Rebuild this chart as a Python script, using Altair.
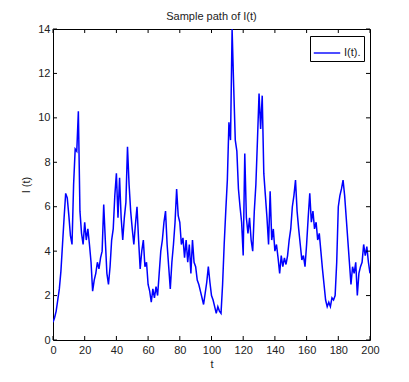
import altair as alt
import pandas as pd

# Sample path values (t = 0..200, step 1)
t_values = list(range(0, 201))
i_values = [
    0.8, 1.0, 1.3, 1.8, 2.3, 3.1, 4.3, 5.5, 6.6, 6.4,   # 0-9
    5.6, 4.7, 4.3, 7.0, 8.6, 8.5, 10.3, 5.8, 4.8, 4.3,  # 10-19
    5.3, 4.5, 5.0, 4.3, 3.5, 2.2, 2.7, 3.0, 3.5, 3.2,   # 20-29
    3.7, 4.0, 6.1, 4.5, 3.0, 2.5, 3.3, 4.5, 5.0, 6.5,   # 30-39
    7.5, 5.5, 7.3, 5.5, 4.5, 5.5, 6.2, 8.7, 7.0, 5.8,   # 40-49
    5.0, 4.3, 5.2, 6.0, 4.5, 3.2, 4.0, 4.5, 3.3, 3.5,   # 50-59
    2.5, 2.2, 1.7, 2.3, 1.9, 2.4, 2.0, 3.0, 4.0, 4.5,   # 60-69
    5.3, 5.8, 4.3, 3.3, 2.3, 3.5, 4.3, 5.3, 6.8, 5.6,   # 70-79
    5.3, 4.3, 4.6, 3.7, 4.5, 3.5, 4.3, 3.0, 4.5, 3.5,   # 80-89
    3.3, 2.7, 2.5, 2.2, 1.9, 1.6, 2.1, 2.6, 3.3, 2.6,   # 90-99
    2.0, 1.8, 1.5, 1.2, 1.5, 1.3, 1.2, 2.5, 4.3, 5.8,   # 100-109
    7.2, 9.8, 9.0, 14.0, 11.4, 9.0, 8.5, 6.8, 6.0, 5.3, # 110-119
    3.8, 8.4, 5.5, 4.8, 5.5, 4.5, 4.0, 5.8, 7.0, 9.0,   # 120-129
    11.1, 9.5, 11.0, 7.5, 6.5, 5.5, 4.3, 6.7, 4.5, 5.0, # 130-139
    4.0, 4.3, 3.7, 3.0, 3.8, 3.3, 3.7, 3.4, 3.8, 4.5,   # 140-149
    5.0, 6.0, 6.5, 7.2, 5.8, 5.0, 4.3, 3.6, 3.8, 3.3,   # 150-159
    4.3, 5.5, 6.6, 5.3, 5.8, 5.0, 5.3, 4.5, 4.8, 4.0,   # 160-169
    3.2, 2.5, 1.8, 1.5, 1.7, 1.5, 1.9, 1.8, 2.0, 3.5,   # 170-179
    6.0, 6.5, 6.8, 7.2, 6.5, 5.5, 4.5, 3.5, 2.5, 3.3,   # 180-189
    3.0, 3.5, 2.0, 3.0, 3.3, 3.5, 4.3, 3.8, 4.2, 3.5,   # 190-199
    3.0,                                               # 200
]
series_name = "I(t)."
x_ticks = [0, 20, 40, 60, 80, 100, 120, 140, 160, 180, 200]
y_ticks = [0, 2, 4, 6, 8, 10, 12, 14]

W, H = 317, 311
FONT = "Liberation Sans"

df = pd.DataFrame({"t": t_values, "I": i_values, "series": series_name})
xt = pd.DataFrame({"v": x_ticks})
yt = pd.DataFrame({"v": y_ticks})

xscale = alt.Scale(domain=[0, 200], nice=False, zero=False)
yscale = alt.Scale(domain=[0, 14], nice=False, zero=False)

xaxis = alt.Axis(values=x_ticks, ticks=False, domain=False, grid=False,
                 title="t", labelPadding=4, titlePadding=3,
                 labelOverlap=False, labelFlush=False,
                 labelFontSize=11, titleFontSize=11, titleFontWeight="normal",
                 labelFont=FONT, titleFont=FONT,
                 labelColor="#222", titleColor="#222")
yaxis = alt.Axis(values=y_ticks, ticks=False, domain=False, grid=False,
                 title="I (t)", labelPadding=3, titlePadding=6,
                 labelOverlap=False, labelFlush=False,
                 labelFontSize=11, titleFontSize=11, titleFontWeight="normal",
                 labelFont=FONT, titleFont=FONT,
                 labelColor="#222", titleColor="#222")

line = alt.Chart(df).mark_line(strokeWidth=1.5, clip=True).encode(
    x=alt.X("t:Q", scale=xscale, axis=xaxis),
    y=alt.Y("I:Q", scale=yscale, axis=yaxis),
    color=alt.Color("series:N", scale=alt.Scale(range=["#0000FF"]),
                    legend=alt.Legend(title=None, orient="none", legendX=257, legendY=7,
                                      symbolType="stroke", symbolSize=700,
                                      symbolStrokeWidth=1.4, labelFont=FONT,
                                      labelFontSize=11, labelColor="#222",
                                      strokeColor="black", fillColor="white",
                                      padding=3, labelOffset=3)),
)

tick_len = 4
bottom_ticks = alt.Chart(xt).mark_rule(color="black", strokeWidth=1).encode(
    x=alt.X("v:Q", scale=xscale, axis=xaxis), y=alt.value(H), y2=alt.value(H - tick_len))
top_ticks = alt.Chart(xt).mark_rule(color="black", strokeWidth=1).encode(
    x=alt.X("v:Q", scale=xscale, axis=xaxis), y=alt.value(0), y2=alt.value(tick_len))
left_ticks = alt.Chart(yt).mark_rule(color="black", strokeWidth=1).encode(
    y=alt.Y("v:Q", scale=yscale, axis=yaxis), x=alt.value(0), x2=alt.value(tick_len))
right_ticks = alt.Chart(yt).mark_rule(color="black", strokeWidth=1).encode(
    y=alt.Y("v:Q", scale=yscale, axis=yaxis), x=alt.value(W), x2=alt.value(W - tick_len))

chart = alt.layer(line, bottom_ticks, top_ticks, left_ticks, right_ticks).properties(
    width=W, height=H,
    title=alt.TitleParams("Sample path of I(t)", font=FONT, fontSize=11,
                          fontWeight="normal", color="#222", offset=1, anchor="middle"),
    autosize=alt.AutoSizeParams(type="none"),
    padding={"left": 45, "top": 21, "right": 30, "bottom": 35},
).configure_view(stroke="black", strokeWidth=1)

chart.save("out.html", embed_options={"renderer": "svg", "actions": False})
